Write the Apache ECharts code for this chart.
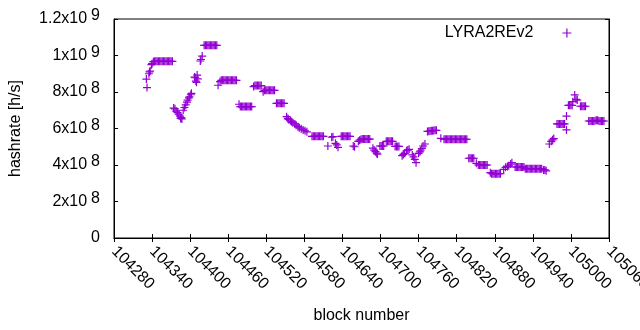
<!DOCTYPE html>
<html>
<head>
<meta charset="utf-8">
<script src="https://cdn.jsdelivr.net/npm/echarts@6/dist/echarts.min.js"></script>
<style>
  html, body { margin: 0; padding: 0; background: #fff; }
  #chart { width: 640px; height: 330px; }
</style>
</head>
<body>
<div id="chart"></div>
<script>
const seriesName = 'LYRA2REv2';

const blockNo = [
  104331, 104332, 104335, 104336, 104337, 104339, 104340,
  104342, 104344, 104346, 104348, 104350, 104352, 104354, 104356, 104358, 104360, 104362, 104364, 104366, 104368, 104370, 104372,
  104374, 104376, 104378, 104380, 104382, 104384, 104385, 104386, 104387,
  104389, 104391, 104393, 104395, 104396, 104398, 104399, 104401, 104402,
  104407, 104408, 104409, 104410, 104411, 104412,
  104416, 104417, 104419,
  104422, 104424, 104426, 104428, 104430, 104432, 104434, 104436, 104438, 104440, 104442,
  104444, 104447,
  104449, 104451, 104453, 104455, 104457, 104459, 104461, 104463, 104465, 104467, 104469, 104471, 104473,
  104477,
  104479, 104481, 104483, 104485, 104487, 104489, 104491, 104493, 104495, 104497,
  104500,
  104502, 104504, 104506, 104508, 104510, 104512,
  104515,
  104517, 104519, 104521, 104523, 104525, 104527, 104529, 104531, 104533,
  104536, 104538, 104540, 104542, 104544, 104546, 104548,
  104552, 104554, 104555, 104558, 104560, 104562, 104565, 104567, 104570, 104572, 104575, 104578, 104581, 104584,
  104592, 104594, 104596, 104598, 104600, 104602, 104604, 104606, 104608, 104610,
  104617,
  104623, 104625,
  104629, 104631, 104633,
  104638, 104640, 104642, 104644, 104646, 104648, 104650, 104652,
  104657, 104659,
  104665, 104667, 104669, 104671, 104673, 104675, 104677, 104679, 104681, 104683,
  104688, 104690, 104692, 104694, 104695,
  104699, 104701, 104703, 104705,
  104709, 104711, 104713, 104715, 104717, 104719,
  104723, 104725, 104727, 104729,
  104734, 104736, 104738, 104741, 104743, 104745,
  104750, 104752, 104754, 104756,
  104760, 104762, 104763, 104765, 104767, 104770,
  104774, 104776, 104778, 104780, 104782, 104784, 104786, 104788,
  104795,
  104800, 104802, 104804, 104806, 104808, 104810, 104812, 104814, 104816, 104818, 104820, 104822, 104824, 104826, 104828, 104830, 104832, 104834, 104836,
  104839, 104841, 104843, 104845, 104847,
  104851,
  104854, 104856, 104858, 104860, 104862, 104864, 104866, 104868,
  104873,
  104875, 104877, 104879, 104881, 104883, 104885, 104887, 104889,
  104894, 104897, 104900, 104902, 104905, 104907,
  104912, 104914, 104916, 104918, 104920, 104922, 104924, 104926,
  104928, 104930, 104932, 104934, 104936, 104938, 104940, 104942, 104944, 104946, 104948, 104950, 104952, 104954,
  104957, 104959, 104961,
  104966, 104969, 104971, 104973,
  104978, 104980, 104982, 104984, 104986, 104988, 104990,
  104993, 104993,
  104996, 104998, 105000, 105002,
  105003, 105006, 105008, 105010,
  105015, 105017, 105019, 105021, 105023,
  105028, 105030, 105032, 105034, 105036, 105038, 105040, 105042, 105044, 105046, 105048, 105050, 105052
];

// hashrate in units of 1e8 h/s, same order as blockNo
const hashrate = [
  8.71, 8.24, 9.0, 9.1, 9.15, 9.5, 9.55,
  9.66, 9.68, 9.68, 9.68, 9.68, 9.68, 9.68, 9.68, 9.68, 9.68, 9.68, 9.68, 9.68, 9.68, 9.68, 9.68,
  7.12, 7.08, 6.95, 6.87, 6.78, 6.68, 6.55, 6.6, 6.52,
  7.0, 7.15, 7.29, 7.45, 7.56, 7.68, 7.74, 7.85, 7.93,
  8.82, 8.78, 8.6, 8.53, 8.93, 8.72,
  9.7, 9.78, 9.97,
  10.56, 10.56, 10.56, 10.56, 10.56, 10.56, 10.56, 10.56, 10.56, 10.56, 10.56,
  8.37, 8.57,
  8.64, 8.64, 8.64, 8.64, 8.64, 8.64, 8.64, 8.64, 8.64, 8.64, 8.64, 8.64, 8.64,
  7.33,
  7.2, 7.2, 7.2, 7.2, 7.2, 7.2, 7.2, 7.2, 7.2, 7.2,
  8.3,
  8.35, 8.35, 8.35, 8.35, 8.35, 8.35,
  8.02,
  8.09, 8.09, 8.09, 8.09, 8.09, 8.09, 8.09, 8.09, 8.09,
  7.38, 7.38, 7.38, 7.38, 7.38, 7.38, 7.38,
  6.65, 6.55, 6.5, 6.42, 6.37, 6.32, 6.25, 6.18, 6.1, 6.04, 5.98, 5.92, 5.87, 5.82,
  5.57, 5.57, 5.57, 5.57, 5.57, 5.57, 5.57, 5.57, 5.57, 5.57,
  5.04,
  5.52, 5.55,
  5.19, 5.1, 4.97,
  5.57, 5.57, 5.57, 5.57, 5.57, 5.57, 5.57, 5.57,
  5.04, 5.0,
  5.3, 5.36, 5.4, 5.42, 5.42, 5.42, 5.42, 5.42, 5.42, 5.42,
  4.92, 4.82, 4.73, 4.65, 4.6,
  5.04, 5.04, 5.04, 5.04,
  5.3, 5.3, 5.3, 5.3, 5.3, 5.3,
  5.02, 5.02, 5.02, 5.02,
  4.51, 4.58, 4.64, 4.78, 4.82, 4.86,
  4.55, 4.45, 4.31, 4.13,
  4.64, 4.72, 4.78, 4.9, 5.04, 5.15,
  5.84, 5.85, 5.86, 5.87, 5.88, 5.89, 5.9, 5.9,
  5.46,
  5.41, 5.41, 5.41, 5.41, 5.41, 5.41, 5.41, 5.41, 5.41, 5.41, 5.41, 5.41, 5.41, 5.41, 5.41, 5.41, 5.41, 5.41, 5.41,
  4.37, 4.37, 4.37, 4.37, 4.37,
  4.09,
  4.0, 4.0, 4.0, 4.0, 4.0, 4.0, 4.0, 4.0,
  3.58,
  3.52, 3.52, 3.52, 3.52, 3.52, 3.52, 3.52, 3.52,
  3.76, 3.87, 3.92, 3.96, 4.05, 4.13,
  3.89, 3.89, 3.89, 3.89, 3.89, 3.89, 3.89, 3.89,
  3.8, 3.8, 3.8, 3.8, 3.8, 3.8, 3.8, 3.8, 3.8, 3.8, 3.8, 3.8, 3.8, 3.8,
  3.73, 3.73, 3.68,
  5.15, 5.3, 5.38, 5.45,
  6.25, 6.25, 6.25, 6.25, 6.25, 6.25, 6.25,
  6.68, 5.92,
  7.27, 7.27, 7.27, 7.27,
  7.47, 7.84, 7.6, 7.56,
  7.22, 7.22, 7.22, 7.22, 7.22,
  6.41, 6.41, 6.41, 6.41, 6.41, 6.43, 6.45, 6.45, 6.41, 6.41, 6.41, 6.41, 6.41
];

const xMin = 104280, xMax = 105060, xStep = 60;
const yMin = 0, yMax = 1.2e9, yStep = 2e8;

const plus = 'path://M0,5H10M5,0V10';
const violet = '#9400d3';
const font = 'Liberation Sans, Arial, sans-serif';

const points = blockNo.map((b, i) => [b, hashrate[i] * 1e8]);

function sciLabel(v) {
  if (v === 0) return '{b|0}';
  const e = Math.floor(Math.log10(v) + 1e-9);
  const m = +(v / Math.pow(10, e)).toFixed(1);
  return '{b|' + m + 'x10}{s|' + e + '}';
}

const chart = echarts.init(document.getElementById('chart'), null, { renderer: 'canvas' });

const tick = { show: true, inside: true, length: 4, lineStyle: { color: '#000', width: 1 } };
const line = { show: true, lineStyle: { color: '#000', width: 1 } };

chart.setOption({
  animation: false,
  textStyle: { fontFamily: font },
  grid: {
    left: 114, right: 31, top: 19, bottom: 92,
    containLabel: false, outerBoundsMode: 'none',
    show: true, borderColor: '#000', borderWidth: 1
  },
  legend: {
    data: [seriesName],
    right: 63,
    top: 20,
    align: 'right',
    icon: plus,
    itemWidth: 9,
    itemHeight: 9,
    itemStyle: { color: violet, borderColor: violet, borderWidth: 1.2 },
    textStyle: { fontSize: 16, color: '#000', fontFamily: font, padding: [0, 24, 0, 0] }
  },
  xAxis: [{
    type: 'value',
    min: xMin, max: xMax, interval: xStep,
    name: 'block number',
    nameLocation: 'middle',
    nameGap: 70,
    nameTextStyle: { fontSize: 16, color: '#000', fontFamily: font },
    axisLine: line,
    axisTick: tick,
    splitLine: { show: false },
    axisLabel: {
      rotate: -45, margin: 11, fontSize: 16, color: '#000', fontFamily: font,
      showMaxLabel: true, showMinLabel: true, hideOverlap: false,
      formatter: v => String(v)
    }
  }, {
    type: 'value', position: 'top',
    min: xMin, max: xMax, interval: xStep,
    axisLine: line, axisTick: tick, splitLine: { show: false },
    axisLabel: { show: false }
  }],
  yAxis: [{
    type: 'value',
    min: yMin, max: yMax, interval: yStep,
    name: 'hashrate [h/s]',
    nameLocation: 'middle',
    nameGap: 90,
    nameTextStyle: { fontSize: 16, color: '#000', fontFamily: font },
    axisLine: line,
    axisTick: tick,
    splitLine: { show: false },
    axisLabel: {
      margin: 14,
      formatter: sciLabel,
      rich: {
        b: { fontSize: 16, color: '#000', fontFamily: font, lineHeight: 22, verticalAlign: 'middle' },
        s: { fontSize: 16, color: '#000', fontFamily: font, lineHeight: 22, verticalAlign: 'top', padding: [0, 0, 0, 4] }
      }
    }
  }, {
    type: 'value', position: 'right',
    min: yMin, max: yMax, interval: yStep,
    axisLine: line, axisTick: tick, splitLine: { show: false },
    axisLabel: { show: false }
  }],
  series: [{
    name: seriesName,
    type: 'scatter',
    symbol: plus,
    symbolSize: 8,
    itemStyle: { color: violet, borderColor: violet, borderWidth: 1.2, opacity: 1 },
    emphasis: { disabled: true },
    data: points
  }]
});
</script>
</body>
</html>
